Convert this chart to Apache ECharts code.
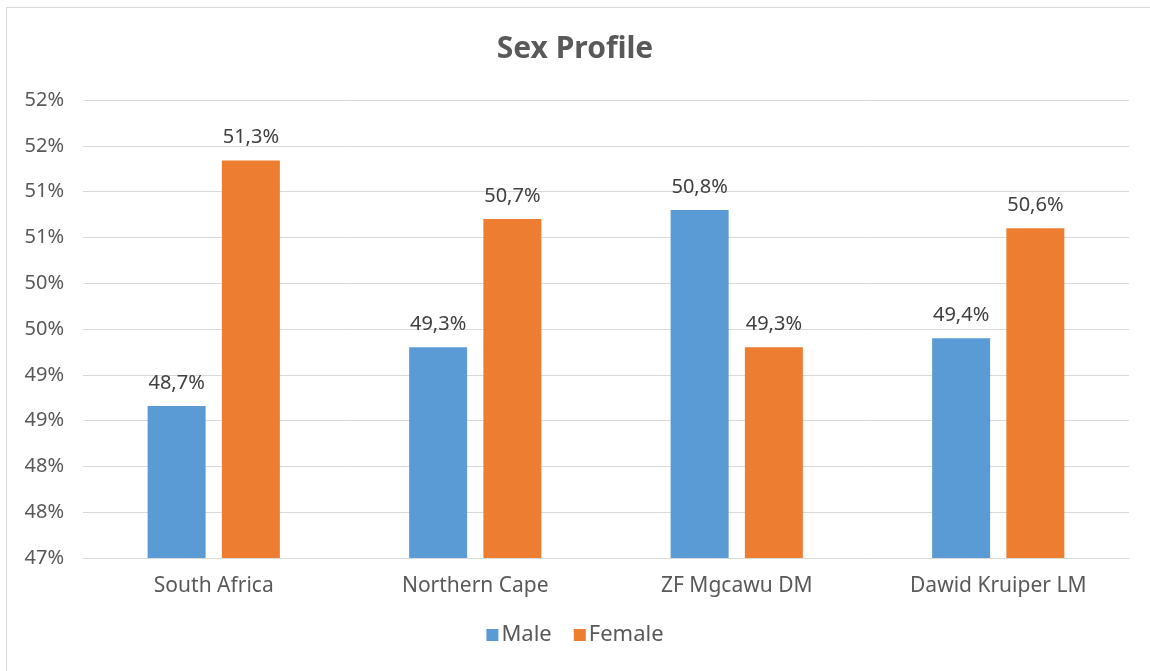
<!DOCTYPE html>
<html>
<head>
<meta charset="utf-8">
<script src="https://cdn.jsdelivr.net/npm/echarts@6/dist/echarts.min.js"></script>
<style>
  html, body { margin: 0; padding: 0; background: #fff; }
  #chart { width: 1150px; height: 671px; }
</style>
</head>
<body>
<div id="chart"></div>
<script>
var categories = ['South Africa', 'Northern Cape', 'ZF Mgcawu DM', 'Dawid Kruiper LM'];
var maleValues = [48.66, 49.3, 50.8, 49.4];
var femaleValues = [51.34, 50.7, 49.3, 50.6];

var FONT = '"Noto Sans", sans-serif';

function pct(v) {
  return v.toFixed(1).replace('.', ',') + '%';
}

var myChart = echarts.init(document.getElementById('chart'));

var labelStyle = {
  show: true,
  position: 'top',
  distance: 13,
  fontFamily: FONT,
  fontSize: 20,
  color: '#404040',
  formatter: function (p) { return pct(p.value); }
};

var option = {
  animation: false,
  backgroundColor: '#fff',
  graphic: [{
    type: 'rect',
    shape: { x: 6.5, y: 7.5, width: 1160, height: 680 },
    style: { fill: 'none', stroke: '#d9d9d9', lineWidth: 1 },
    silent: true
  }],
  title: {
    text: 'Sex Profile',
    left: 'center',
    top: 29,
    textStyle: { fontFamily: FONT, fontSize: 30, fontWeight: 'bold', color: '#595959' }
  },
  legend: {
    bottom: 20,
    left: 'center',
    icon: 'rect',
    itemWidth: 12,
    itemHeight: 12,
    itemGap: 22,
    itemStyle: { borderWidth: 0 },
    textStyle: { fontFamily: FONT, fontSize: 22, color: '#595959', padding: [0, 0, 0, -2] },
    data: ['Male', 'Female']
  },
  grid: { left: 83, right: 21, top: 100, bottom: 113, containLabel: false },
  xAxis: {
    type: 'category',
    data: categories,
    axisLine: { show: true, lineStyle: { color: '#d9d9d9', width: 1 } },
    axisTick: { show: false },
    axisLabel: { fontFamily: FONT, fontSize: 21, color: '#595959', margin: 18 }
  },
  yAxis: {
    type: 'value',
    min: 47,
    max: 52,
    interval: 0.5,
    axisLine: { show: false },
    axisTick: { show: false },
    splitLine: { lineStyle: { color: '#d9d9d9', width: 1 } },
    axisLabel: {
      fontFamily: FONT, fontSize: 20, color: '#595959', margin: 19,
      formatter: function (v) { return Math.round(v) + '%'; }
    }
  },
  series: [
    {
      name: 'Male',
      type: 'bar',
      data: maleValues,
      barWidth: 58,
      barGap: '28%',
      itemStyle: { color: '#5b9bd5' },
      label: labelStyle
    },
    {
      name: 'Female',
      type: 'bar',
      data: femaleValues,
      barWidth: 58,
      barGap: '28%',
      itemStyle: { color: '#ed7d31' },
      label: labelStyle
    }
  ]
};

myChart.setOption(option);
</script>
</body>
</html>
